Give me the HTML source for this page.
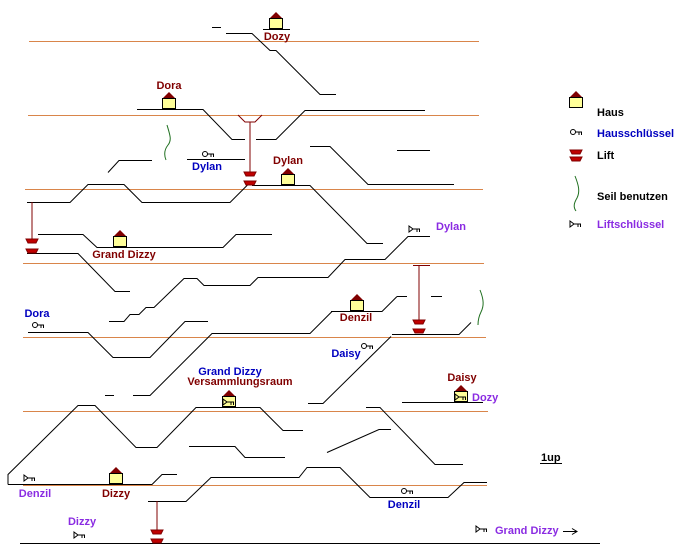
<!DOCTYPE html>
<html><head><meta charset="utf-8"><style>
html,body{margin:0;padding:0;background:#fff}
svg{display:block}
text{font-family:"Liberation Sans",Arial,sans-serif;font-weight:bold;font-size:11px}
.m{fill:#800000}.b{fill:#0000c0}.p{fill:#8a2be2}.k{fill:#000}
.o{stroke:#d9854a;stroke-width:1;fill:none;shape-rendering:crispEdges}
.l{stroke:#000;stroke-width:1;fill:none}
</style></head><body>
<svg width="682" height="554" viewBox="0 0 682 554" xmlns="http://www.w3.org/2000/svg">
<defs>
<g id="house"><polygon points="-7,-10 0,-17 7,-10" fill="#800000"/><rect x="-6.5" y="-10.5" width="13" height="10" fill="#ffff99" stroke="#000"/></g>
<g id="hkey"><circle cx="-3" cy="0" r="2.5" fill="none" stroke="#000"/><path d="M-0.5,0H6M3,0V3M5.5,0V3" stroke="#000" fill="none"/></g>
<g id="lkey"><path d="M-6,-3L-2,0L-6,3Z" fill="none" stroke="#000"/><path d="M-2,0H5M2,0V3M4.5,0V3" stroke="#000" fill="none"/></g>
<g id="lift"><polygon points="-6,-2 6,-2 4,2 -4,2" fill="#c00000" stroke="#800000"/></g>
</defs>
<g class="o">
<line x1="29" y1="41.5" x2="479" y2="41.5"/><line x1="28" y1="115.5" x2="479" y2="115.5"/>
<line x1="25" y1="189.5" x2="483" y2="189.5"/><line x1="23" y1="263.5" x2="484" y2="263.5"/>
<line x1="23" y1="337.5" x2="486" y2="337.5"/><line x1="23" y1="411.5" x2="488" y2="411.5"/>
<line x1="23" y1="485.5" x2="487" y2="485.5"/>
</g>
<g class="l" transform="translate(0,0.5)">
<path d="M212,27H221"/>
<path d="M226,33H252L270,50H276L320,94H336"/>
<path d="M263,29H290"/>
<path d="M137,109H203L232,139H245M256,139H276L305,110H425"/>
<path d="M108,172L119,160H152"/>
<path d="M187,159H245"/>
<path d="M310,146H330L368,184H454"/>
<path d="M397,150H430"/>
<path d="M252,185H310L367,243H383"/>
<path d="M27,202H70L88,184H124L142,202H230L248,184"/>
<path d="M38,234H83L97,247H223L236,234H272"/>
<path d="M27,253H78L115,291H130"/>
<path d="M430,236H408L385,259H345L328,277H258L250,285H204L197,278H184L154,307H146L139,314H130L124,321H109"/>
<path d="M397,296H407M431,296H442"/>
<path d="M331,311H382L397,296"/>
<path d="M28,332H88L113,357H150L185,321H208"/>
<path d="M392,334H459L471,322"/>
<path d="M105,395H114M133,395H150L212,333H310L332,311"/>
<path d="M308,403H323L391,336"/>
<path d="M8,484V474L78,405H95L136,447H157L196,407H260L283,430H303"/>
<path d="M402,402H483"/>
<path d="M366,407H380L435,464H463"/>
<path d="M189,446H235L245,457H285"/>
<path d="M327,452L379,429H391"/>
<path d="M8,484H152L162,474H177"/>
<path d="M148,501H186L211,477H299L307,467H340L370,497H448L464,482H487"/>
<path d="M20,543H600"/>
<path d="M540,463H562"/>
<path d="M563,531H577M572,528L577,531L572,534"/>
</g>
<g stroke="#800000" fill="none">
<path d="M238,115L245,122H255L262,115"/>
<line x1="250" y1="122" x2="250" y2="172"/>
<line x1="32" y1="202" x2="32" y2="240"/>
<line x1="413" y1="265.5" x2="430" y2="265.5"/><line x1="419" y1="265" x2="419" y2="322"/>
<line x1="157" y1="501" x2="157" y2="530"/>
</g>
<g stroke="#207020" fill="none">
<path d="M167,125C170,135 172,140 168,145C164,150 164,155 166,160"/>
<path d="M480,290C484,300 484,306 481,312C478,318 478,322 478,325"/>
<path d="M575,176C579,186 580,192 577,198C574,203 573,207 576,211"/>
</g>
<use href="#lift" x="250" y="174"/><use href="#lift" x="250" y="183"/>
<use href="#lift" x="32" y="241"/><use href="#lift" x="32" y="251"/>
<use href="#lift" x="419" y="322"/><use href="#lift" x="419" y="331"/>
<use href="#lift" x="157" y="532"/><use href="#lift" x="157" y="541"/>
<use href="#lift" x="576" y="152"/><use href="#lift" x="576" y="159"/>
<use href="#house" x="276" y="29"/><use href="#house" x="169" y="109"/>
<use href="#house" x="288" y="185"/><use href="#house" x="120" y="247"/>
<use href="#house" x="357" y="311"/><use href="#house" x="229" y="407"/>
<use href="#house" x="461" y="402"/><use href="#house" x="116" y="484"/>
<use href="#house" x="576" y="108"/>
<use href="#hkey" x="208" y="154"/><use href="#hkey" x="38" y="325"/>
<use href="#hkey" x="367" y="346"/><use href="#hkey" x="407" y="491"/>
<use href="#hkey" x="576" y="132"/>
<use href="#lkey" x="415" y="229"/><use href="#lkey" x="30" y="478"/>
<use href="#lkey" x="80" y="535"/><use href="#lkey" x="482" y="529"/>
<use href="#lkey" x="576" y="224"/>
<use href="#lkey" x="229" y="402"/><use href="#lkey" x="461" y="397"/>
<text class="m" x="277" y="40" text-anchor="middle">Dozy</text>
<text class="m" x="169" y="89" text-anchor="middle">Dora</text>
<text class="m" x="288" y="164" text-anchor="middle">Dylan</text>
<text class="b" x="207" y="170" text-anchor="middle">Dylan</text>
<text class="p" x="436" y="230">Dylan</text>
<text class="m" x="124" y="258" text-anchor="middle">Grand Dizzy</text>
<text class="b" x="37" y="317" text-anchor="middle">Dora</text>
<text class="m" x="356" y="321" text-anchor="middle">Denzil</text>
<text class="b" x="346" y="357" text-anchor="middle">Daisy</text>
<text class="b" x="230" y="375" text-anchor="middle">Grand Dizzy</text>
<text class="m" x="240" y="385" text-anchor="middle">Versammlungsraum</text>
<text class="m" x="462" y="381" text-anchor="middle">Daisy</text>
<text class="p" x="472" y="401">Dozy</text>
<text class="p" x="35" y="497" text-anchor="middle">Denzil</text>
<text class="m" x="116" y="497" text-anchor="middle">Dizzy</text>
<text class="b" x="404" y="508" text-anchor="middle">Denzil</text>
<text class="p" x="82" y="525" text-anchor="middle">Dizzy</text>
<text class="p" x="495" y="534">Grand Dizzy</text>
<text class="k" x="541" y="461">1up</text>
<text class="k" x="597" y="116">Haus</text>
<text class="b" x="597" y="137">Hausschlüssel</text>
<text class="k" x="597" y="159">Lift</text>
<text class="k" x="597" y="200">Seil benutzen</text>
<text class="p" x="597" y="228">Liftschlüssel</text>
</svg>
</body></html>
